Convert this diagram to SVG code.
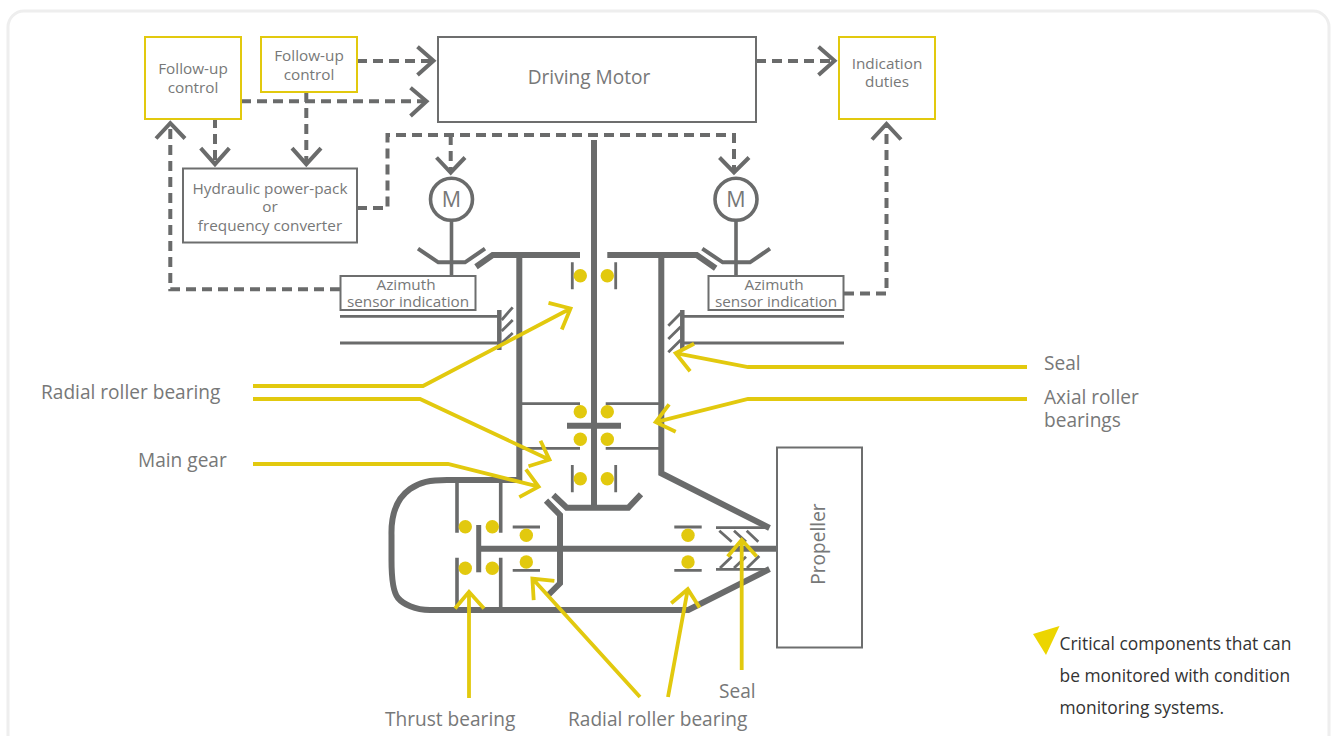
<svg xmlns="http://www.w3.org/2000/svg" width="1337" height="736" viewBox="0 0 1337 736">
<style>
text{font-family:"Open Sans","Noto Sans",sans-serif;fill:#777878;text-anchor:middle}
.s{font-size:15.3px}.m{font-size:19.100px}.k{font-size:17.400px;fill:#333;text-anchor:start}
.l{font-size:19.100px;text-anchor:start}
.mm{font-size:21.500px}
.box{fill:#fff;stroke:#6d6e6e;stroke-width:2}
.ybox{fill:#fff;stroke:#e2c90e;stroke-width:2}
.d{fill:none;stroke:#6a6b6b;stroke-width:4;stroke-dasharray:10 6}
.h{fill:none;stroke:#6a6b6b;stroke-width:4}
.t{fill:none;stroke:#6a6b6b;stroke-width:6}
.n{fill:none;stroke:#6a6b6b;stroke-width:2.8}
.q{fill:none;stroke:#6a6b6b;stroke-width:3.6}
.y{fill:none;stroke:#e2c90e;stroke-width:3.800}
.dot{fill:#e2c90e}
</style>
<rect x="8" y="11" width="1321" height="760" rx="16" fill="#fff" stroke="#eeeeee" stroke-width="3"/>
<g id="connectors">
<path class="d" d="M357 61H431"/><path class="h" d="M417.500 46.700L433.500 60.700L417.500 75"/>
<path class="d" d="M241 101.300H424"/><path class="h" d="M410.500 87.700L426.500 101.300L410.500 116"/>
<path class="d" d="M215 118V162"/><path class="h" d="M200.700 148.200L215 164.200L229.300 148.200"/>
<path class="d" d="M306.300 92V162"/><path class="h" d="M292 148.200L306.300 164.200L321 148.200"/>
<path class="d" d="M340 289.300H170.300V125"/><path class="h" d="M156 138.500L170.300 123.200L185 138.500"/>
<path class="d" d="M357 208H387.500V135H734V171"/><path class="h" d="M719.500 157.500L734 172.500L749 157.500"/>
<path class="d" d="M450.700 135V171"/><path class="h" d="M436.500 157.500L450.700 172.500L465 157.500"/>
<path class="d" d="M844 293.500H886.500V125"/><path class="h" d="M872 139.500L886.500 124L901 139.500"/>
<path class="d" d="M756 61H833"/><path class="h" d="M818.500 46.700L834.500 60.700L818.500 75"/>
</g>
<g id="mechanism">
<path class="t" d="M594 140V507"/>
<path class="t" d="M476 266.700L492.700 255H580"/>
<path class="t" d="M607.300 255H696.700L715.700 268.300"/>
<path class="t" d="M519.300 255V482"/>
<path class="t" d="M661.300 255V473.300L769.500 528"/>
<path class="t" d="M553.300 495L566.700 507.700H628.300L641 494.300"/>
<path class="t" d="M546 500.700L560 515V583.300L548.300 595"/>
<path class="t" d="M522 480H447C430 480 420 482 410 489C396 499 391 515 391.500 535V560C391.500 580 393 592 398 598C403 604 415 610 430 610H688.300L769.500 569"/>
<path class="t" d="M567 425.700H621"/>
<path class="t" d="M478 548.700H777"/>
<path class="q" style="stroke-width:5" d="M478.700 525V572.300"/>
<path class="q" d="M457 481.700V532.700M457 557.700V607M500.700 481.700V532.700M500.700 557.700V607"/>
<path class="n" d="M572.300 262.300V289.300M615.700 262.300V289.300M572.300 465V492.300M615.700 465V492.300"/>
<path class="n" d="M522 403.700H580M605.700 403.700H659M522 448.300H580M605.700 448.300H659"/>
<path class="n" d="M512.700 527H540M512.700 570.300H540M674.300 527H701.700M674.300 570.300H701.700"/>
<path class="n" d="M716 527.700H769M716 569.300H769"/>
<path class="n" d="M719.300 530.700L731.700 541.700M734 530.700L746 541.700M746.700 530.700L758.300 541.700M731.700 556.700L720 568M746 556.700L734 568M759.300 556L747 568"/>
<path class="n" d="M340 316.300H498M340 343H498M683 316.300H844M683 343H844"/>
<path class="q" style="stroke-width:4.500" d="M499.300 310V350M682.300 310V350"/>
<path class="n" d="M501.700 320L512.700 307.300M501.700 331L512.700 320M501.700 343L512.700 333M680.700 313.300L668.300 325.700M680.700 326.700L668.300 339M680.700 340L668.300 352.300"/>
<path class="q" d="M451.500 221V276M736 221V276"/>
<path class="h" d="M418 248.700L438.300 262.300H465L485 248.700M702.300 248.700L722.700 262.300H750L770 248.700"/>
<g class="dot">
<circle cx="580.300" cy="275.700" r="6.700"/><circle cx="607.300" cy="275.700" r="6.700"/>
<circle cx="580.300" cy="411.700" r="6.700"/><circle cx="607.300" cy="411.700" r="6.700"/>
<circle cx="580.300" cy="439.300" r="6.700"/><circle cx="607.300" cy="439.300" r="6.700"/>
<circle cx="580.300" cy="478.700" r="6.700"/><circle cx="607.300" cy="478.700" r="6.700"/>
<circle cx="465.300" cy="526.700" r="6.700"/><circle cx="492.300" cy="526.700" r="6.700"/>
<circle cx="465.300" cy="568.300" r="6.700"/><circle cx="492.300" cy="568.300" r="6.700"/>
<circle cx="526.300" cy="535.300" r="6.700"/><circle cx="526.300" cy="562" r="6.700"/>
<circle cx="688" cy="535.300" r="6.700"/><circle cx="688" cy="562" r="6.700"/>
</g>
</g>
<g id="follow-up-1"><rect class="ybox" x="145" y="37" width="96" height="82"/><text class="s" x="193" y="74">Follow-up</text><text class="s" x="193" y="93">control</text></g>
<g id="follow-up-2"><rect class="ybox" x="261" y="37" width="96" height="55"/><text class="s" x="309" y="61">Follow-up</text><text class="s" x="309" y="80">control</text></g>
<g id="driving-motor"><rect class="box" x="438" y="37" width="318" height="85"/><text class="m" x="589" y="84">Driving Motor</text></g>
<g id="indication"><rect class="ybox" x="839" y="37" width="96" height="82"/><text class="s" x="887" y="69">Indication</text><text class="s" x="887" y="87">duties</text></g>
<g id="hydraulic"><rect class="box" x="183" y="168.500" width="174" height="74"/><text class="s" x="270" y="194">Hydraulic power-pack</text><text class="s" x="270" y="212">or</text><text class="s" x="270" y="231">frequency converter</text></g>
<g id="motor-left"><circle cx="451.500" cy="199.300" r="21" fill="#fff" stroke="#6a6b6b" stroke-width="3.600"/><text class="mm" x="451.500" y="207">M</text></g>
<g id="motor-right"><circle cx="736" cy="199.300" r="21" fill="#fff" stroke="#6a6b6b" stroke-width="3.600"/><text class="mm" x="736" y="207">M</text></g>
<g id="azimuth-left"><rect class="box" x="340.500" y="276" width="135" height="34"/><text class="s" x="406" y="290">Azimuth</text><text class="s" x="408" y="307">sensor indication</text></g>
<g id="azimuth-right"><rect class="box" x="708.500" y="276" width="135" height="34"/><text class="s" x="774" y="290">Azimuth</text><text class="s" x="776" y="307">sensor indication</text></g>
<g id="propeller"><rect class="box" x="777" y="447.500" width="85" height="200"/><text class="m" transform="translate(825 544) rotate(-90)">Propeller</text></g>
<g id="callouts">
<path class="y" d="M253 386H423L570.500 308.500M548.500 302.900L570.500 308.500L561.800 329.500"/>
<path class="y" d="M253 399H420L549.500 459.700M540.500 440.700L549.500 459.700L528.500 466.300"/>
<path class="y" d="M253 464H448L538.600 486.700M525.900 469.400L538.600 486.700L519.300 497.100"/>
<path class="y" d="M1027 367H748L675.700 353.200M694.100 343.800L675.700 353.200L690.100 371.200"/>
<path class="y" d="M1027 399H748L655.700 422.100M669.100 404.400L655.700 422.100L675.700 431.700"/>
<path class="y" d="M469 698V591.800M455 608.500L469 591.800L484 608.500"/>
<path class="y" d="M640 697L532.400 578.500M554.400 580.800L532.400 578.500L533.700 600.100"/>
<path class="y" d="M668 697L687.800 589.200M671.200 603.200L687.800 589.200L699.500 607.500"/>
<path class="y" d="M741.700 670V539.800M727.700 556.500L741.700 539.800L756.700 556.500"/>
</g>
<g id="labels">
<text class="l" x="41" y="398.500">Radial roller bearing</text>
<text class="l" x="138" y="467">Main gear</text>
<text class="l" x="1044" y="370">Seal</text>
<text class="l" x="1044" y="404">Axial roller</text>
<text class="l" x="1044" y="427">bearings</text>
<text class="l" x="385" y="726">Thrust bearing</text>
<text class="l" x="568" y="726">Radial roller bearing</text>
<text class="l" x="719" y="698">Seal</text>
</g>
<g id="legend">
<polygon points="1033,634 1059.500,626 1046,655" fill="#ecd500"/>
<text class="k" x="1059.500" y="650">Critical components that can</text>
<text class="k" x="1059.500" y="682">be monitored with condition</text>
<text class="k" x="1059.500" y="714">monitoring systems.</text>
</g>
</svg>
